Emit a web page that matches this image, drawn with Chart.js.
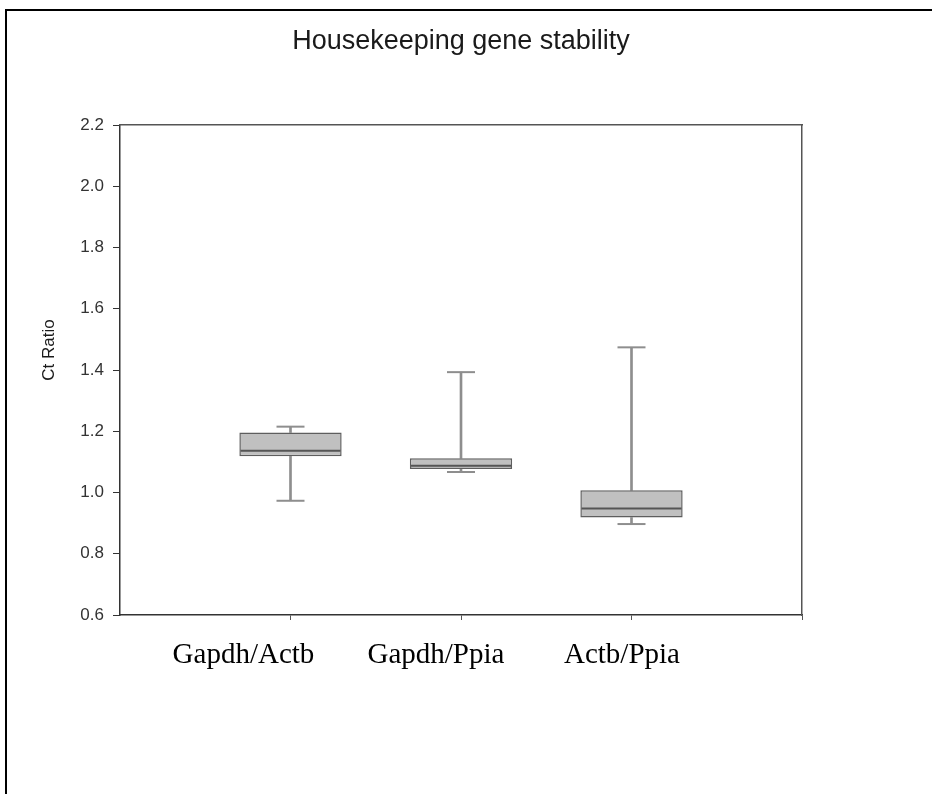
<!DOCTYPE html>
<html>
<head>
<meta charset="utf-8">
<script src="https://cdn.jsdelivr.net/npm/chart.js@4.4.1/dist/chart.umd.min.js"></script>
<style>
    html, body { margin: 0; padding: 0; background: #fff; }
    .frame {
        position: absolute; left: 5px; top: 9px;
        width: 1000px; height: 1000px;
        border-left: 2px solid #000; border-top: 2px solid #000;
    }
    .chart-box { position: absolute; left: 0; top: 0; width: 932px; height: 794px; }
</style>
</head>
<body>
<div class="frame"></div>
<div class="chart-box"><canvas id="stabilityChart"></canvas></div>
<script>
// Gene pairs (categories)
const pairs = ['Gapdh/Actb', 'Gapdh/Ppia', 'Actb/Ppia'];

// Box plot statistics
const whiskerLow  = [0.973, 1.067, 0.897];
const q1          = [1.118, 1.077, 0.918];
const median      = [1.136, 1.087, 0.948];
const q3          = [1.196, 1.112, 1.007];
const whiskerHigh = [1.215, 1.393, 1.474];

// Y axis range / step
const yMin = 0.6;
const yMax = 2.2;
const yStep = 0.2;

// categories sit at x = 1, 2, 3 on a 0..4 axis
const pos = pairs.map((_, i) => i + 1);

// the pasted-in category captions are a little off their ticks
const captionAt = [0.724, 1.853, 2.944];

const boxes = pos.map((x, i) => ({ x: x, y: [q1[i], q3[i]] }));
const lowerWhiskers = pos.map((x, i) => ({ x: x, y: [whiskerLow[i], q1[i]] }));
const upperWhiskers = pos.map((x, i) => ({ x: x, y: [q3[i], whiskerHigh[i]] }));
const caps = pos.flatMap((x, i) => [{ x: x, y: whiskerLow[i] }, { x: x, y: whiskerHigh[i] }]);
const medians = pos.map((x, i) => ({ x: x, y: median[i] }));

const axisColor = '#333';
const whiskerColor = '#8e8e8e';

function frameOnly(position, extra) {
    return Object.assign({
        type: 'linear',
        position: position,
        display: true,
        offset: false,
        ticks: { display: false },
        grid: { display: false },
        border: { display: true, color: '#555', width: 1.5 },
        afterFit: scale => {
            if (scale.isHorizontal()) scale.height = 0; else scale.width = 0;
        }
    }, extra);
}

const ctx = document.getElementById('stabilityChart').getContext('2d');
new Chart(ctx, {
    type: 'bar',
    data: {
        datasets: [
            {
                type: 'scatter',
                label: 'median',
                data: medians,
                xAxisID: 'x', yAxisID: 'y',
                pointStyle: 'line',
                pointRadius: 50,
                borderColor: '#555',
                borderWidth: 2,
                order: 1
            },
            {
                type: 'scatter',
                label: 'caps',
                data: caps,
                xAxisID: 'x', yAxisID: 'y',
                pointStyle: 'line',
                pointRadius: 14,
                borderColor: whiskerColor,
                borderWidth: 2,
                order: 1
            },
            {
                label: 'box',
                data: boxes,
                xAxisID: 'x', yAxisID: 'y',
                grouped: false,
                barPercentage: 0.6,
                categoryPercentage: 1,
                backgroundColor: '#c0c0c0',
                borderColor: '#5e5e5e',
                borderWidth: 1.5,
                borderSkipped: false,
                order: 2
            },
            {
                label: 'lower whisker',
                data: lowerWhiskers,
                xAxisID: 'x', yAxisID: 'y',
                grouped: false,
                barThickness: 2,
                backgroundColor: whiskerColor,
                borderWidth: 0,
                order: 3
            },
            {
                label: 'upper whisker',
                data: upperWhiskers,
                xAxisID: 'x', yAxisID: 'y',
                grouped: false,
                barThickness: 2,
                backgroundColor: whiskerColor,
                borderWidth: 0,
                order: 3
            }
        ]
    },
    options: {
        responsive: true,
        maintainAspectRatio: false,
        animation: false,
        events: [],
        layout: { padding: { left: 20, right: 130, top: 6, bottom: 100 } },
        plugins: {
            legend: { display: false },
            tooltip: { enabled: false },
            title: {
                display: true,
                text: 'Housekeeping gene stability',
                fullSize: false,
                color: '#1a1a1a',
                font: { family: 'Liberation Sans', size: 27, weight: 'normal' },
                padding: { top: 19.8, bottom: 66.8 }
            },
            subtitle: {
                display: true,
                text: 'Ct Ratio',
                position: 'left',
                fullSize: true,
                color: '#1a1a1a',
                font: { family: 'Liberation Sans', size: 17, weight: 'normal' },
                padding: { top: 18.8, bottom: 0 }
            }
        },
        scales: {
            x: {
                type: 'linear',
                position: 'bottom',
                min: 0,
                max: 4,
                offset: false,
                weight: 0,
                afterBuildTicks: scale => {
                    scale.ticks = [1, 2, 3, 4].map(v => ({ value: v }));
                },
                ticks: { display: false },
                grid: { offset: false, drawOnChartArea: false, drawTicks: true, tickLength: 5, color: '#555' },
                border: { display: true, color: axisColor, width: 1.5 },
                afterFit: scale => { scale.height = 5; }
            },
            xl: {
                type: 'linear',
                position: 'bottom',
                min: 0,
                max: 4,
                offset: false,
                weight: 1,
                afterBuildTicks: scale => {
                    scale.ticks = captionAt.map(v => ({ value: v }));
                },
                ticks: {
                    autoSkip: false,
                    maxRotation: 0,
                    padding: 10,
                    color: '#000',
                    font: { family: 'Liberation Serif', size: 29 },
                    callback: (value, index) => pairs[index]
                },
                grid: { display: false },
                border: { display: false },
                afterFit: scale => { scale.height = 74; }
            },
            y: {
                type: 'linear',
                position: 'left',
                min: yMin,
                max: yMax,
                ticks: {
                    stepSize: yStep,
                    padding: 9,
                    color: axisColor,
                    font: { family: 'Liberation Sans', size: 17 },
                    callback: v => v.toFixed(1)
                },
                grid: { drawOnChartArea: false, drawTicks: true, tickLength: 7, color: axisColor },
                border: { display: true, color: axisColor, width: 1.5 },
                afterFit: scale => { scale.width = 60.8; }
            },
            xTop: frameOnly('top', { min: 0, max: 4 }),
            yRight: frameOnly('right', { min: yMin, max: yMax })
        }
    }
});
</script>
</body>
</html>
